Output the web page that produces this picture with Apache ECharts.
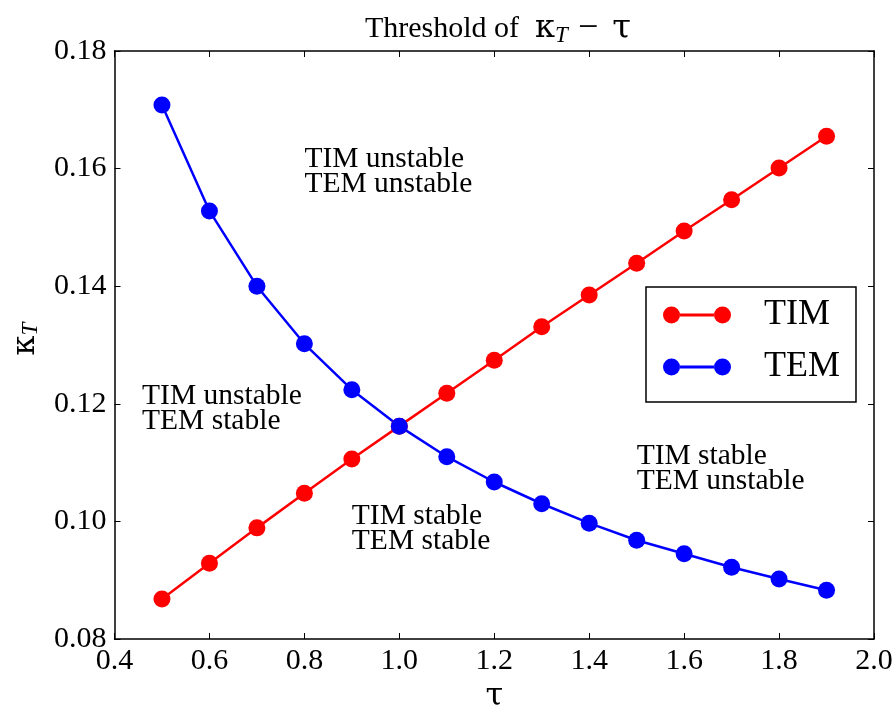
<!DOCTYPE html>
<html><head><meta charset="utf-8">
<script src="https://cdn.jsdelivr.net/npm/echarts@6/dist/echarts.min.js"></script>
<style>html,body{margin:0;padding:0;background:#fff}#c{width:896px;height:706px}</style>
</head><body><div id="c"></div>
<script>
const tau = [0.5,0.6,0.7,0.8,0.9,1.0,1.1,1.2,1.3,1.4,1.5,1.6,1.7,1.8,1.9];
const timValues = [0.0868,0.0929,0.0989,0.1048,0.1106,0.1162,0.1218,0.1274,0.1331,0.1385,0.1439,0.1494,0.1547,0.1601,0.1655];
const temValues = [0.1708,0.1528,0.1400,0.1302,0.1224,0.1162,0.1110,0.1067,0.1030,0.0997,0.0968,0.0945,0.0922,0.0902,0.0883];
const seriesNames = ['TIM','TEM'];
const regionLabels = ['TIM unstable\nTEM unstable','TIM unstable\nTEM stable','TIM stable\nTEM stable','TIM stable\nTEM unstable'];
const regionX = [0.8, 0.458, 0.9, 1.5];
const regionY = [0.1594, 0.1191, 0.0988, 0.1090];

const FONT = 'Liberation Serif';
const MATH = 'DejaVu Serif';
const chart = echarts.init(document.getElementById('c'), null, {renderer:'canvas'});
const axLine = {show:true, onZero:false, lineStyle:{color:'#000', width:1.5}};
const axTick = {show:true, inside:true, length:6, lineStyle:{color:'#000', width:1}};
const legendIcon = 'path://M0,8.5A8.5,8.5 0 1,0 17,8.5A8.5,8.5 0 1,0 0,8.5Z M51,8.5A8.5,8.5 0 1,0 68,8.5A8.5,8.5 0 1,0 51,8.5Z M16.8,7L51.2,7L51.2,10L16.8,10Z';

chart.setOption({
  animation:false,
  backgroundColor:'#fff',
  title:{
    text:'Threshold of{k|κ}{s|T}{m|−}{t|τ}',
    left:493, top:6, textAlign:'center',
    textStyle:{fontFamily:FONT, fontSize:30, fontWeight:'normal', color:'#000',
      rich:{k:{fontFamily:MATH,fontSize:32,color:'#000',padding:[0,0,0,16]},
            s:{fontFamily:FONT,fontSize:23,fontStyle:'italic',color:'#000',verticalAlign:'bottom',padding:[10,0,0,0]},
            m:{fontFamily:FONT,fontSize:36,color:'#000',padding:[0,14,0,10]},
            t:{fontFamily:MATH,fontSize:34,color:'#000'}}}
  },
  grid:{left:114.5, right:22, top:51, bottom:67, outerBoundsMode:'none', containLabel:false},
  legend:{
    data:seriesNames, orient:'vertical', left:646, top:287,
    borderColor:'#000', borderWidth:1.5, borderRadius:0,
    padding:[10,16,17,17], itemGap:16, itemWidth:68, itemHeight:17,
    icon:legendIcon,
    formatter:n=>'{a|'+n+'}',
    textStyle:{fontFamily:FONT, fontSize:36, color:'#000',
      rich:{a:{fontFamily:FONT, fontSize:36, color:'#000', padding:[0,0,0,28]}}}
  },
  xAxis:[
    {type:'value', min:0.4, max:2.0, interval:0.2, position:'bottom',
     axisLine:axLine, axisTick:axTick, splitLine:{show:false},
     axisLabel:{formatter:v=>v.toFixed(1), fontFamily:FONT, fontSize:30, color:'#000', margin:7},
     name:'τ', nameLocation:'middle', nameGap:38,
     nameTextStyle:{fontFamily:MATH, fontSize:32, color:'#000'}},
    {type:'value', min:0.4, max:2.0, interval:0.2, position:'top',
     axisLine:axLine, axisTick:axTick, splitLine:{show:false}, axisLabel:{show:false}}
  ],
  yAxis:[
    {type:'value', min:0.08, max:0.18, interval:0.02, position:'left',
     axisLine:axLine, axisTick:axTick, splitLine:{show:false},
     axisLabel:{formatter:v=>v.toFixed(2), fontFamily:FONT, fontSize:30, color:'#000', margin:8},
     name:'{k|κ}{s|T}', nameLocation:'middle', nameGap:72, nameRotate:90,
     nameTextStyle:{fontFamily:MATH, fontSize:32, color:'#000',
       rich:{k:{fontFamily:MATH,fontSize:32,color:'#000',padding:[0,0,0,12]},
             s:{fontFamily:FONT,fontSize:23,fontStyle:'italic',color:'#000',verticalAlign:'bottom',padding:[10,0,0,0]}}}},
    {type:'value', min:0.08, max:0.18, interval:0.02, position:'right',
     axisLine:axLine, axisTick:axTick, splitLine:{show:false}, axisLabel:{show:false}}
  ],
  series:[
    {name:'TIM', type:'line', data:tau.map((t,i)=>[t,timValues[i]]),
     color:'#ff0000', lineStyle:{width:2.5, color:'#ff0000'}, itemStyle:{color:'#ff0000', opacity:1},
     symbol:'circle', symbolSize:17, showSymbol:true},
    {name:'TEM', type:'line', data:tau.map((t,i)=>[t,temValues[i]]),
     color:'#0000ff', lineStyle:{width:2.5, color:'#0000ff'}, itemStyle:{color:'#0000ff', opacity:1},
     symbol:'circle', symbolSize:17, showSymbol:true},
    {name:'regions', type:'scatter', silent:true, symbolSize:0,
     itemStyle:{opacity:1},
     data:regionX.map((x,i)=>({value:[x,regionY[i]], name:regionLabels[i]})),
     label:{show:true, position:[0,0], align:'left', verticalAlign:'middle',
       formatter:p=>p.name, fontFamily:FONT, fontSize:29.5, lineHeight:25, color:'#000', opacity:1}}
  ]
});
</script></body></html>
